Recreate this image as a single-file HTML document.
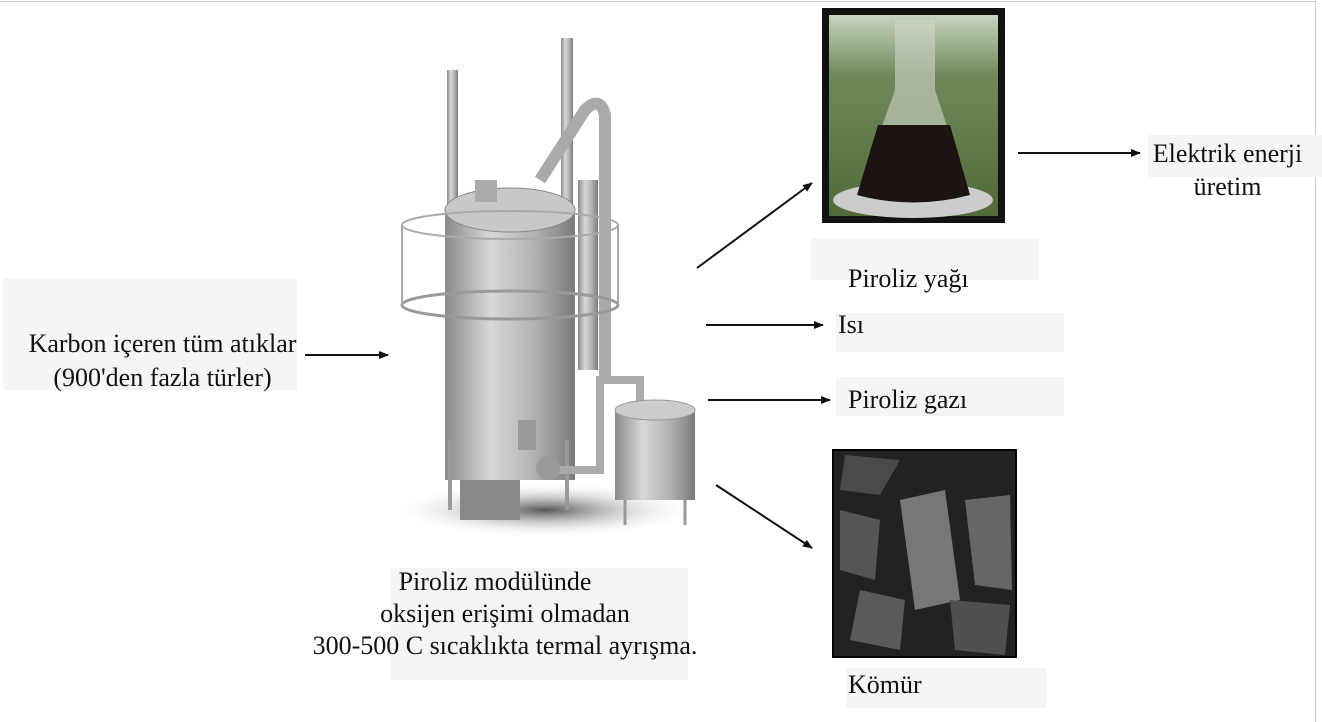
<!DOCTYPE html>
<html><head><meta charset="utf-8"><style>
body{margin:0;width:1322px;height:710px;background:#fff;overflow:hidden;position:relative;font-family:"Liberation Serif",serif;color:#111}
.b{position:absolute;background:#f6f5f5}
.t{position:absolute;font-size:26px;line-height:32px;white-space:nowrap}
</style></head><body>
<div style="position:absolute;left:0;top:1px;width:1315px;height:720px;border-top:1px solid #ccc;border-right:1px solid #ccc"></div>
<div class="b" style="left:3px;top:278px;width:294px;height:112px"></div>
<div class="t" style="left:10px;top:327px;text-align:center;width:305px;line-height:34px">Karbon içeren tüm atıklar<br>(900'den fazla türler)</div>
<div class="b" style="left:811px;top:238px;width:228px;height:42px"></div>
<div class="t" style="left:848px;top:263px">Piroliz yağı</div>
<div class="b" style="left:836px;top:313px;width:228px;height:39px"></div>
<div class="t" style="left:838px;top:309px">Isı</div>
<div class="b" style="left:836px;top:377px;width:228px;height:39px"></div>
<div class="t" style="left:848px;top:384px">Piroliz gazı</div>
<div class="b" style="left:846px;top:668px;width:200px;height:40px"></div>
<div class="t" style="left:848px;top:669px">Kömür</div>
<div class="b" style="left:1148px;top:135px;width:174px;height:42px"></div>
<div class="t" style="left:1140px;top:137px;text-align:center;width:175px;line-height:33px">Elektrik enerji<br>üretim</div>
<div class="b" style="left:390px;top:568px;width:298px;height:112px"></div>
<div class="t" style="left:300px;top:566px;text-align:center;width:410px;line-height:32px"><span style="position:relative;left:-10px">Piroliz modülünde</span><br>oksijen erişimi olmadan<br>300-500 C sıcaklıkta termal ayrışma.</div>

<svg width="1322" height="710" style="position:absolute;left:0;top:0">
<defs>
<marker id="a" markerWidth="10" markerHeight="8" refX="9" refY="4" orient="auto" markerUnits="userSpaceOnUse"><path d="M0,0L10,4L0,8z" fill="#111"/></marker>
<linearGradient id="g" x1="0" x2="1"><stop offset="0" stop-color="#8a8a8a"/><stop offset=".35" stop-color="#d8d8d8"/><stop offset=".7" stop-color="#b0b0b0"/><stop offset="1" stop-color="#7a7a7a"/></linearGradient>
<linearGradient id="tr" x1="0" y1="0" x2="0" y2="1"><stop offset="0" stop-color="#c9d4bf"/><stop offset=".3" stop-color="#6f8a5a"/><stop offset="1" stop-color="#506a3a"/></linearGradient>
<radialGradient id="sh"><stop offset="0" stop-color="#555"/><stop offset="1" stop-color="#fff" stop-opacity="0"/></radialGradient>
</defs>
<g stroke="#111" stroke-width="2" marker-end="url(#a)">
<line x1="305" y1="355" x2="388" y2="355"/>
<line x1="697" y1="268" x2="812" y2="183"/>
<line x1="706" y1="325" x2="823" y2="325"/>
<line x1="708" y1="400" x2="830" y2="400"/>
<line x1="716" y1="485" x2="812" y2="548"/>
<line x1="1018" y1="153" x2="1140" y2="153"/>
</g>
<ellipse cx="545" cy="510" rx="155" ry="28" fill="url(#sh)"/>
<rect x="447" y="70" width="11" height="180" fill="url(#g)"/>
<rect x="561" y="38" width="12" height="170" fill="url(#g)"/>
<path d="M540,180 L585,110 Q600,95 605,115 L605,380" stroke="#aaa" stroke-width="12" fill="none"/>
<rect x="578" y="180" width="20" height="190" fill="url(#g)"/>
<rect x="445" y="210" width="130" height="270" fill="url(#g)"/>
<ellipse cx="510" cy="210" rx="65" ry="22" fill="#c8c8c8" stroke="#888"/>
<rect x="475" y="180" width="22" height="22" fill="#aaa"/>
<ellipse cx="510" cy="305" rx="108" ry="14" fill="none" stroke="#999" stroke-width="3"/>
<ellipse cx="510" cy="225" rx="108" ry="14" fill="none" stroke="#aaa" stroke-width="2"/>
<line x1="402" y1="225" x2="402" y2="305" stroke="#aaa" stroke-width="2"/>
<line x1="618" y1="225" x2="618" y2="305" stroke="#aaa" stroke-width="2"/>
<rect x="460" y="480" width="60" height="40" fill="#888"/>
<rect x="448" y="440" width="4" height="70" fill="#999"/>
<rect x="565" y="440" width="4" height="70" fill="#999"/>
<rect x="518" y="420" width="18" height="30" fill="#9a9a9a"/>
<path d="M540,470 L600,470 L600,380 L640,380 L640,410" stroke="#aaa" stroke-width="8" fill="none"/>
<circle cx="548" cy="468" r="12" fill="#999"/>
<rect x="615" y="410" width="80" height="90" fill="url(#g)"/>
<ellipse cx="655" cy="410" rx="40" ry="10" fill="#ccc" stroke="#999"/>
<line x1="625" y1="500" x2="625" y2="525" stroke="#999" stroke-width="3"/>
<line x1="685" y1="500" x2="685" y2="525" stroke="#999" stroke-width="3"/>
<rect x="822" y="8" width="183" height="215" fill="#111"/>
<rect x="829" y="15" width="169" height="201" fill="url(#tr)"/>
<ellipse cx="913" cy="200" rx="80" ry="18" fill="#ccc"/>
<path d="M895,20 L935,20 L935,90 L970,195 Q913,210 857,195 L895,90Z" fill="#cfd6c8" opacity=".6"/>
<path d="M878,125 L950,125 L970,195 Q913,210 857,195Z" fill="#1c1410"/>
<rect x="833" y="450" width="183" height="207" fill="#222" stroke="#000" stroke-width="2"/>
<path d="M900,500 L945,490 L960,600 L915,610Z" fill="#777"/>
<path d="M840,510 L880,520 L875,580 L840,570Z" fill="#555"/>
<path d="M965,500 L1010,495 L1012,590 L975,585Z" fill="#666"/>
<path d="M860,590 L905,600 L900,650 L850,640Z" fill="#5a5a5a"/>
<path d="M845,455 L900,460 L880,495 L840,490Z" fill="#4a4a4a"/>
<path d="M950,600 L1010,605 L1005,655 L955,650Z" fill="#505050"/>
</svg>
</body></html>
